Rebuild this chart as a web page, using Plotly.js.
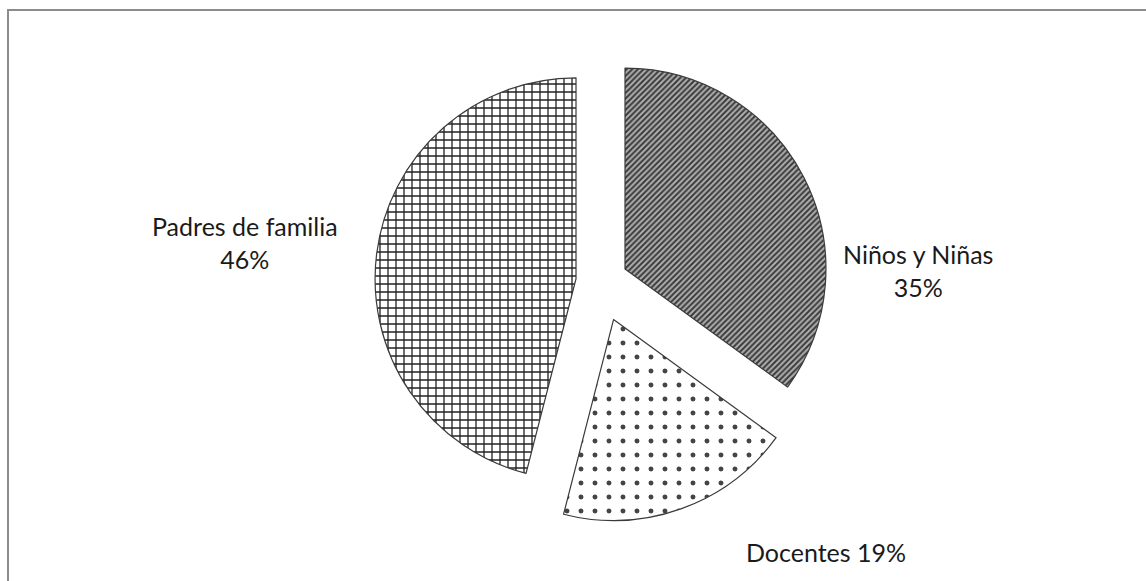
<!DOCTYPE html>
<html>
<head>
<meta charset="utf-8">
<script src="https://cdn.plot.ly/plotly-3.0.1.min.js"></script>
<style>
html,body{margin:0;padding:0;background:#fff;}
#frame{position:absolute;left:7px;top:9px;width:1139px;height:572px;border-left:2px solid #8c8c8c;border-top:2px solid #8c8c8c;box-sizing:border-box;}
#chart{position:absolute;left:0;top:0;width:1146px;height:581px;}
</style>
</head>
<body>
<div id="frame"></div>
<div id="chart"></div>
<script>
const categories = ["Niños y Niñas", "Docentes", "Padres de familia"];
const values = [35, 19, 46];
const labelBreaks = ["<br>", " ", "<br>"];

const W = 1146, H = 581;
// label anchor positions in pixels (style, not data)
const labelPos = [[918, 270], [826, 552], [245, 242]];

const total = values.reduce((a, b) => a + b, 0);
const annotations = categories.map((c, i) => ({
  xref: "paper", yref: "paper",
  x: labelPos[i][0] / W, y: 1 - labelPos[i][1] / H,
  xanchor: "center", yanchor: "middle",
  text: c + labelBreaks[i] + Math.round(values[i] / total * 100) + "%",
  showarrow: false,
  font: {family: "Lato, 'Open Sans', sans-serif", size: 25, color: "#1a1a1a"},
  align: "center"
}));

const trace = {
  type: "pie",
  labels: categories,
  values: values,
  sort: false,
  direction: "clockwise",
  rotation: 0,
  pull: [0.14, 0.2, 0.12],
  textinfo: "none",
  hoverinfo: "label+percent",
  domain: {x: [0.1, 0.947], y: [0.1, 0.93]},
  marker: {
    colors: ["#9a9a9a", "#ffffff", "#ffffff"],
    line: {color: "#3a3a3a", width: 1.2},
    pattern: {
      shape: ["/", ".", "+"],
      fgcolor: ["#3a3a3a", "#444444", "#222222"],
      bgcolor: ["#b0b0b0", "#ffffff", "#ffffff"],
      size: [4, 14, 8],
      solidity: [0.5, 0.1, 0.3],
      fillmode: "replace"
    }
  },
  showlegend: false
};

const layout = {
  width: W,
  height: H,
  margin: {l: 0, r: 0, t: 0, b: 0},
  paper_bgcolor: "rgba(0,0,0,0)",
  plot_bgcolor: "rgba(0,0,0,0)",
  showlegend: false,
  annotations: annotations
};

Plotly.newPlot("chart", [trace], layout, {displayModeBar: false, staticPlot: true});
</script>
</body>
</html>
